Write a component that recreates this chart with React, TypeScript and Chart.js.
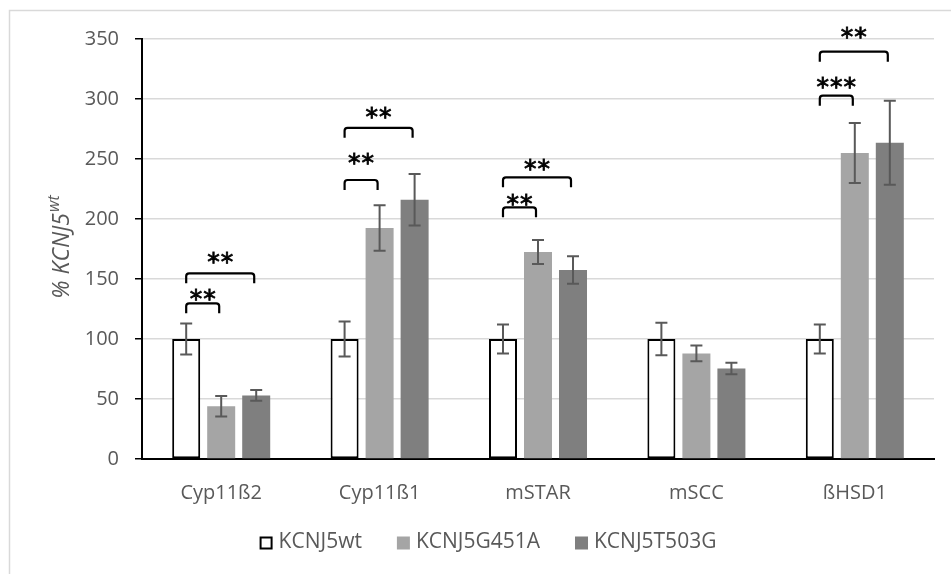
import { useEffect, useRef } from "react";
import { Chart, registerables } from "chart.js";

Chart.register(...registerables);

const categories = ["Cyp11ß2", "Cyp11ß1", "mSTAR", "mSCC", "ßHSD1"];
const seriesNames = ["KCNJ5wt", "KCNJ5G451A", "KCNJ5T503G"];
const wtValues = [100, 100, 100, 100, 100];
const wtErrors = [13, 14.5, 12, 13.5, 12];
const g451aValues = [44, 192.5, 172.5, 88, 255];
const g451aErrors = [8.5, 19, 10, 6.5, 25];
const t503gValues = [53, 216, 157.5, 75.5, 263.5];
const t503gErrors = [4.5, 21.5, 11.5, 4.8, 35];
const yTicks = [0, 50, 100, 150, 200, 250, 300, 350];

// significance brackets
const bracketCategory = [0, 0, 1, 1, 2, 2, 4, 4];
const bracketFrom = [0, 0, 0, 0, 0, 0, 0, 0];
const bracketTo = [1, 2, 1, 2, 1, 2, 1, 2];
const bracketTop = [129.7, 154.7, 232.5, 276, 209.7, 234.7, 302.8, 339.4];
const bracketLabelY = [136.7, 167.5, 250, 288.6, 215.8, 245, 313.6, 354.7];
const bracketLabels = ["**", "**", "**", "**", "**", "**", "***", "**"];

const TEXT = "#595959";
const FONT = '"Open Sans", "DejaVu Sans", sans-serif';

const overlay = {
  id: "overlay",
  beforeDraw(chart: any) {
    const ctx = chart.ctx;
    ctx.save();
    ctx.fillStyle = "#ffffff";
    ctx.fillRect(0, 0, chart.width, chart.height);
    ctx.strokeStyle = "#d9d9d9";
    ctx.lineWidth = 1.5;
    ctx.strokeRect(9.5, 10.5, chart.width + 20, chart.height + 20);
    ctx.restore();
  },
  afterDatasetsDraw(chart: any) {
    const ctx = chart.ctx;
    const y = chart.scales.y;
    const errs = [wtErrors, g451aErrors, t503gErrors];
    ctx.save();
    // error bars
    ctx.strokeStyle = "#595959";
    ctx.lineWidth = 2;
    chart.data.datasets.forEach((ds: any, di: number) => {
      const meta = chart.getDatasetMeta(di);
      meta.data.forEach((bar: any, i: number) => {
        const v = ds.data[i];
        const e = errs[di][i];
        const yt = y.getPixelForValue(v + e);
        const yb = y.getPixelForValue(v - e);
        const x = bar.x;
        ctx.beginPath();
        ctx.moveTo(x, yt);
        ctx.lineTo(x, yb);
        ctx.moveTo(x - 6, yt);
        ctx.lineTo(x + 6, yt);
        ctx.moveTo(x - 6, yb);
        ctx.lineTo(x + 6, yb);
        ctx.stroke();
      });
    });
    // brackets
    ctx.fillStyle = "#000000";
    for (let k = 0; k < bracketCategory.length; k++) {
      const c = bracketCategory[k];
      const x1 = chart.getDatasetMeta(bracketFrom[k]).data[c].x;
      const x2 = chart.getDatasetMeta(bracketTo[k]).data[c].x - 2;
      const yt = y.getPixelForValue(bracketTop[k]);
      const leg = 10;
      const r = 3;
      ctx.strokeStyle = "#000000";
      ctx.lineWidth = 2.2;
      ctx.beginPath();
      ctx.moveTo(x1, yt + leg);
      ctx.lineTo(x1, yt + r);
      ctx.arcTo(x1, yt, x1 + r, yt, r);
      ctx.lineTo(x2 - r, yt);
      ctx.arcTo(x2, yt, x2, yt + r, r);
      ctx.lineTo(x2, yt + leg);
      ctx.stroke();
      const ly = y.getPixelForValue(bracketLabelY[k]);
      ctx.font = '25px "DejaVu Sans", sans-serif';
      ctx.textAlign = "center";
      ctx.textBaseline = "alphabetic";
      const m = ctx.measureText("*");
      const off = (m.actualBoundingBoxAscent - m.actualBoundingBoxDescent) / 2;
      const n = bracketLabels[k].length;
      const pitch = 13.5;
      const cx = (x1 + x2) / 2;
      ctx.lineWidth = 0.8;
      for (let j = 0; j < n; j++) {
        const sx = cx - ((n - 1) * pitch) / 2 + j * pitch;
        ctx.fillText("*", sx, ly + off);
        ctx.strokeText("*", sx, ly + off);
      }
    }
    // legend
    const colors = ["#ffffff", "#a5a5a5", "#7f7f7f"];
    ctx.font = `21px ${FONT}`;
    const box = 13;
    const gap = 6;
    const spacing = 35;
    const widths = seriesNames.map((s) => box + gap + ctx.measureText(s).width);
    const total = widths.reduce((a, b) => a + b, 0) + spacing * (seriesNames.length - 1);
    let lx = 488 - total / 2;
    const lyc = 543;
    ctx.textAlign = "left";
    ctx.textBaseline = "middle";
    seriesNames.forEach((s, i) => {
      if (i === 0) {
        ctx.fillStyle = "#ffffff";
        ctx.fillRect(lx, lyc - box / 2, box, box);
        ctx.strokeStyle = "#000000";
        ctx.lineWidth = 2;
        ctx.strokeRect(lx + 1, lyc - box / 2 + 1, box - 2, box - 2);
      } else {
        ctx.fillStyle = colors[i];
        ctx.fillRect(lx, lyc - box / 2, box, box);
      }
      ctx.fillStyle = TEXT;
      ctx.fillText(s, lx + box + gap, lyc - 1);
      lx += widths[i] + spacing;
    });
    // y title
    ctx.save();
    ctx.translate(69, 247);
    ctx.rotate(-Math.PI / 2);
    ctx.fillStyle = TEXT;
    ctx.textBaseline = "alphabetic";
    ctx.font = `italic 23px ${FONT}`;
    const main = "% KCNJ5";
    const w1 = ctx.measureText(main).width;
    ctx.font = `italic 16px ${FONT}`;
    const w2 = ctx.measureText("wt").width;
    const start = -(w1 + w2 + 1) / 2;
    ctx.font = `italic 23px ${FONT}`;
    ctx.fillText(main, start, 0);
    ctx.font = `italic 16px ${FONT}`;
    ctx.fillText("wt", start + w1 + 1, -10);
    ctx.restore();
    ctx.restore();
  },
};

export default function App() {
  const ref = useRef<HTMLCanvasElement | null>(null);
  useEffect(() => {
    document.body.style.margin = "0";
    const canvas = ref.current!;
    const chart = new Chart(canvas, {
      type: "bar",
      data: {
        labels: categories,
        datasets: [
          {
            label: seriesNames[0],
            data: wtValues,
            backgroundColor: "#ffffff",
            borderColor: "#000000",
            borderWidth: 2,
            borderSkipped: false,
          },
          {
            label: seriesNames[1],
            data: g451aValues,
            backgroundColor: "#a5a5a5",
            borderWidth: 0,
          },
          {
            label: seriesNames[2],
            data: t503gValues,
            backgroundColor: "#7f7f7f",
            borderWidth: 0,
          },
        ],
      },
      options: {
        responsive: false,
        animation: false,
        devicePixelRatio: 1,
        datasets: {
          bar: { categoryPercentage: 0.663, barPercentage: 0.8 },
        },
        layout: { padding: { top: 39, right: 17, left: 0, bottom: 0 } },
        plugins: {
          legend: { display: false },
          tooltip: { enabled: false },
        },
        scales: {
          x: {
            grid: { display: false },
            border: { display: true, color: "#000000", width: 2 },
            ticks: { color: TEXT, font: { family: FONT, size: 20 }, padding: 14 },
            afterFit: (s: any) => {
              s.height = 115;
            },
          },
          y: {
            min: 0,
            max: 350,
            afterBuildTicks: (s: any) => {
              s.ticks = yTicks.map((v) => ({ value: v }));
            },
            ticks: { color: TEXT, font: { family: FONT, size: 20 }, padding: 16 },
            grid: {
              color: "#d9d9d9",
              lineWidth: 1.5,
              tickColor: "#000000",
              tickLength: 7,
              tickWidth: 1.5,
            },
            border: { color: "#000000", width: 2 },
            afterFit: (s: any) => {
              s.width = 142;
            },
          },
        },
      },
      plugins: [overlay],
    } as any);
    return () => chart.destroy();
  }, []);
  return <canvas ref={ref} width={951} height={574} style={{ display: "block" }} />;
}
